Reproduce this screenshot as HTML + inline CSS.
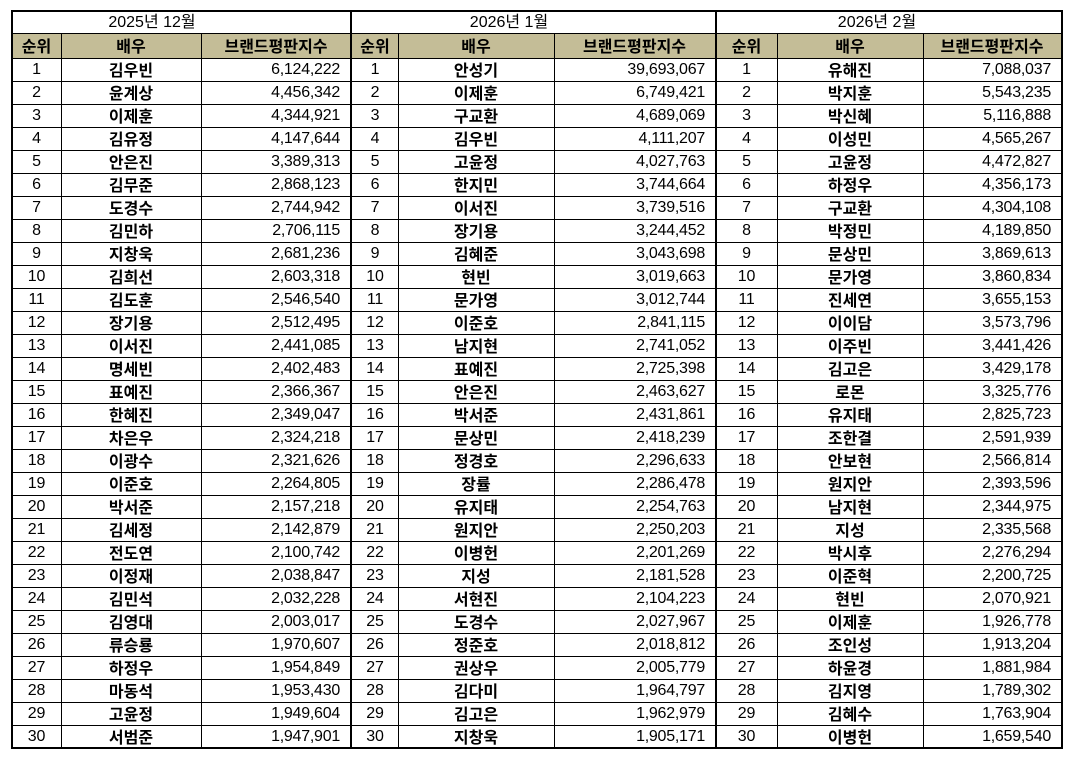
<!DOCTYPE html>
<html><head><meta charset="utf-8">
<style>
*{margin:0;padding:0;box-sizing:border-box}
html,body{width:1075px;height:759px;background:#fff;overflow:hidden}
body{position:relative;font-family:"Liberation Sans","Noto Sans CJK KR",sans-serif;color:#000;font-size:16px}
.ln{position:absolute;background:#000}
.hdrbg{position:absolute;left:13px;top:34px;width:1048px;height:24px;background:#c4bd97}
.grid{position:absolute;left:13px;top:59px;width:1048px;height:689px;background:repeating-linear-gradient(to bottom,transparent 0,transparent 22px,#000 22px,#000 23px)}
.sec{position:absolute;top:0}
.row{position:absolute;left:0;height:23px;display:flex}
.row div{height:23px;line-height:23px;white-space:nowrap}
.rk{text-align:center;letter-spacing:-0.2px}
.nm{text-align:center;font-weight:bold;font-family:"Noto Sans CJK KR","Liberation Sans",sans-serif}
.nu{text-align:right;letter-spacing:-0.25px}
.hd div{font-weight:bold;text-align:center;font-family:"Noto Sans CJK KR","Liberation Sans",sans-serif}
.title{position:absolute;top:12px;height:21px;line-height:21px;width:240px;text-align:center;font-family:"Liberation Sans","Noto Sans CJK KR",sans-serif}
.s1 .a{width:49px}.s1 .b{width:140px}.s1 .c{width:150px;padding-right:11px}
.s2 .a{width:46px}.s2 .b{width:156px}.s2 .c{width:161px;padding-right:10px}
.s3 .a{width:61px}.s3 .b{width:146px}.s3 .c{width:138px;padding-right:10px}
</style></head><body>
<div class="hdrbg"></div>
<div class="grid"></div>

<!-- outer border -->
<div class="ln" style="left:11px;top:10px;width:1052px;height:2px"></div>
<div class="ln" style="left:11px;top:747px;width:1052px;height:2px"></div>
<div class="ln" style="left:11px;top:10px;width:2px;height:739px"></div>
<div class="ln" style="left:1061px;top:10px;width:2px;height:739px"></div>
<!-- section dividers -->
<div class="ln" style="left:350px;top:10px;width:2px;height:739px"></div>
<div class="ln" style="left:715px;top:10px;width:2px;height:739px"></div>
<!-- horizontal lines -->
<div class="ln" style="left:11px;top:33px;width:1052px;height:1px"></div>
<div class="ln" style="left:11px;top:58px;width:1052px;height:1px"></div>
<!-- inner column lines -->
<div class="ln" style="left:61px;top:33px;width:1px;height:715px"></div>
<div class="ln" style="left:201px;top:33px;width:1px;height:715px"></div>
<div class="ln" style="left:398px;top:33px;width:1px;height:715px"></div>
<div class="ln" style="left:554px;top:33px;width:1px;height:715px"></div>
<div class="ln" style="left:777px;top:33px;width:1px;height:715px"></div>
<div class="ln" style="left:923px;top:33px;width:1px;height:715px"></div>

<div class="title" style="left:32px">2025년 12월</div>
<div class="title" style="left:389px">2026년 1월</div>
<div class="title" style="left:757px">2026년 2월</div>

<!-- Section 1 -->
<div class="sec s1" style="left:12px">
<div class="row hd" style="top:34px;height:24px"><div class="a">순위</div><div class="b">배우</div><div class="c" style="padding-right:0">브랜드평판지수</div></div>
<div class="row" style="top:58px"><div class="a rk">1</div><div class="b nm">김우빈</div><div class="c nu">6,124,222</div></div>
<div class="row" style="top:81px"><div class="a rk">2</div><div class="b nm">윤계상</div><div class="c nu">4,456,342</div></div>
<div class="row" style="top:104px"><div class="a rk">3</div><div class="b nm">이제훈</div><div class="c nu">4,344,921</div></div>
<div class="row" style="top:127px"><div class="a rk">4</div><div class="b nm">김유정</div><div class="c nu">4,147,644</div></div>
<div class="row" style="top:150px"><div class="a rk">5</div><div class="b nm">안은진</div><div class="c nu">3,389,313</div></div>
<div class="row" style="top:173px"><div class="a rk">6</div><div class="b nm">김무준</div><div class="c nu">2,868,123</div></div>
<div class="row" style="top:196px"><div class="a rk">7</div><div class="b nm">도경수</div><div class="c nu">2,744,942</div></div>
<div class="row" style="top:219px"><div class="a rk">8</div><div class="b nm">김민하</div><div class="c nu">2,706,115</div></div>
<div class="row" style="top:242px"><div class="a rk">9</div><div class="b nm">지창욱</div><div class="c nu">2,681,236</div></div>
<div class="row" style="top:265px"><div class="a rk">10</div><div class="b nm">김희선</div><div class="c nu">2,603,318</div></div>
<div class="row" style="top:288px"><div class="a rk">11</div><div class="b nm">김도훈</div><div class="c nu">2,546,540</div></div>
<div class="row" style="top:311px"><div class="a rk">12</div><div class="b nm">장기용</div><div class="c nu">2,512,495</div></div>
<div class="row" style="top:334px"><div class="a rk">13</div><div class="b nm">이서진</div><div class="c nu">2,441,085</div></div>
<div class="row" style="top:357px"><div class="a rk">14</div><div class="b nm">명세빈</div><div class="c nu">2,402,483</div></div>
<div class="row" style="top:380px"><div class="a rk">15</div><div class="b nm">표예진</div><div class="c nu">2,366,367</div></div>
<div class="row" style="top:403px"><div class="a rk">16</div><div class="b nm">한혜진</div><div class="c nu">2,349,047</div></div>
<div class="row" style="top:426px"><div class="a rk">17</div><div class="b nm">차은우</div><div class="c nu">2,324,218</div></div>
<div class="row" style="top:449px"><div class="a rk">18</div><div class="b nm">이광수</div><div class="c nu">2,321,626</div></div>
<div class="row" style="top:472px"><div class="a rk">19</div><div class="b nm">이준호</div><div class="c nu">2,264,805</div></div>
<div class="row" style="top:495px"><div class="a rk">20</div><div class="b nm">박서준</div><div class="c nu">2,157,218</div></div>
<div class="row" style="top:518px"><div class="a rk">21</div><div class="b nm">김세정</div><div class="c nu">2,142,879</div></div>
<div class="row" style="top:541px"><div class="a rk">22</div><div class="b nm">전도연</div><div class="c nu">2,100,742</div></div>
<div class="row" style="top:564px"><div class="a rk">23</div><div class="b nm">이정재</div><div class="c nu">2,038,847</div></div>
<div class="row" style="top:587px"><div class="a rk">24</div><div class="b nm">김민석</div><div class="c nu">2,032,228</div></div>
<div class="row" style="top:610px"><div class="a rk">25</div><div class="b nm">김영대</div><div class="c nu">2,003,017</div></div>
<div class="row" style="top:633px"><div class="a rk">26</div><div class="b nm">류승룡</div><div class="c nu">1,970,607</div></div>
<div class="row" style="top:656px"><div class="a rk">27</div><div class="b nm">하정우</div><div class="c nu">1,954,849</div></div>
<div class="row" style="top:679px"><div class="a rk">28</div><div class="b nm">마동석</div><div class="c nu">1,953,430</div></div>
<div class="row" style="top:702px"><div class="a rk">29</div><div class="b nm">고윤정</div><div class="c nu">1,949,604</div></div>
<div class="row" style="top:725px"><div class="a rk">30</div><div class="b nm">서범준</div><div class="c nu">1,947,901</div></div>
</div>

<!-- Section 2 -->
<div class="sec s2" style="left:352px">
<div class="row hd" style="top:34px;height:24px"><div class="a">순위</div><div class="b">배우</div><div class="c" style="padding-right:0">브랜드평판지수</div></div>
<div class="row" style="top:58px"><div class="a rk">1</div><div class="b nm">안성기</div><div class="c nu">39,693,067</div></div>
<div class="row" style="top:81px"><div class="a rk">2</div><div class="b nm">이제훈</div><div class="c nu">6,749,421</div></div>
<div class="row" style="top:104px"><div class="a rk">3</div><div class="b nm">구교환</div><div class="c nu">4,689,069</div></div>
<div class="row" style="top:127px"><div class="a rk">4</div><div class="b nm">김우빈</div><div class="c nu">4,111,207</div></div>
<div class="row" style="top:150px"><div class="a rk">5</div><div class="b nm">고윤정</div><div class="c nu">4,027,763</div></div>
<div class="row" style="top:173px"><div class="a rk">6</div><div class="b nm">한지민</div><div class="c nu">3,744,664</div></div>
<div class="row" style="top:196px"><div class="a rk">7</div><div class="b nm">이서진</div><div class="c nu">3,739,516</div></div>
<div class="row" style="top:219px"><div class="a rk">8</div><div class="b nm">장기용</div><div class="c nu">3,244,452</div></div>
<div class="row" style="top:242px"><div class="a rk">9</div><div class="b nm">김혜준</div><div class="c nu">3,043,698</div></div>
<div class="row" style="top:265px"><div class="a rk">10</div><div class="b nm">현빈</div><div class="c nu">3,019,663</div></div>
<div class="row" style="top:288px"><div class="a rk">11</div><div class="b nm">문가영</div><div class="c nu">3,012,744</div></div>
<div class="row" style="top:311px"><div class="a rk">12</div><div class="b nm">이준호</div><div class="c nu">2,841,115</div></div>
<div class="row" style="top:334px"><div class="a rk">13</div><div class="b nm">남지현</div><div class="c nu">2,741,052</div></div>
<div class="row" style="top:357px"><div class="a rk">14</div><div class="b nm">표예진</div><div class="c nu">2,725,398</div></div>
<div class="row" style="top:380px"><div class="a rk">15</div><div class="b nm">안은진</div><div class="c nu">2,463,627</div></div>
<div class="row" style="top:403px"><div class="a rk">16</div><div class="b nm">박서준</div><div class="c nu">2,431,861</div></div>
<div class="row" style="top:426px"><div class="a rk">17</div><div class="b nm">문상민</div><div class="c nu">2,418,239</div></div>
<div class="row" style="top:449px"><div class="a rk">18</div><div class="b nm">정경호</div><div class="c nu">2,296,633</div></div>
<div class="row" style="top:472px"><div class="a rk">19</div><div class="b nm">장률</div><div class="c nu">2,286,478</div></div>
<div class="row" style="top:495px"><div class="a rk">20</div><div class="b nm">유지태</div><div class="c nu">2,254,763</div></div>
<div class="row" style="top:518px"><div class="a rk">21</div><div class="b nm">원지안</div><div class="c nu">2,250,203</div></div>
<div class="row" style="top:541px"><div class="a rk">22</div><div class="b nm">이병헌</div><div class="c nu">2,201,269</div></div>
<div class="row" style="top:564px"><div class="a rk">23</div><div class="b nm">지성</div><div class="c nu">2,181,528</div></div>
<div class="row" style="top:587px"><div class="a rk">24</div><div class="b nm">서현진</div><div class="c nu">2,104,223</div></div>
<div class="row" style="top:610px"><div class="a rk">25</div><div class="b nm">도경수</div><div class="c nu">2,027,967</div></div>
<div class="row" style="top:633px"><div class="a rk">26</div><div class="b nm">정준호</div><div class="c nu">2,018,812</div></div>
<div class="row" style="top:656px"><div class="a rk">27</div><div class="b nm">권상우</div><div class="c nu">2,005,779</div></div>
<div class="row" style="top:679px"><div class="a rk">28</div><div class="b nm">김다미</div><div class="c nu">1,964,797</div></div>
<div class="row" style="top:702px"><div class="a rk">29</div><div class="b nm">김고은</div><div class="c nu">1,962,979</div></div>
<div class="row" style="top:725px"><div class="a rk">30</div><div class="b nm">지창욱</div><div class="c nu">1,905,171</div></div>
</div>

<!-- Section 3 -->
<div class="sec s3" style="left:716px">
<div class="row hd" style="top:34px;height:24px"><div class="a">순위</div><div class="b">배우</div><div class="c" style="padding-right:0">브랜드평판지수</div></div>
<div class="row" style="top:58px"><div class="a rk">1</div><div class="b nm">유해진</div><div class="c nu">7,088,037</div></div>
<div class="row" style="top:81px"><div class="a rk">2</div><div class="b nm">박지훈</div><div class="c nu">5,543,235</div></div>
<div class="row" style="top:104px"><div class="a rk">3</div><div class="b nm">박신혜</div><div class="c nu">5,116,888</div></div>
<div class="row" style="top:127px"><div class="a rk">4</div><div class="b nm">이성민</div><div class="c nu">4,565,267</div></div>
<div class="row" style="top:150px"><div class="a rk">5</div><div class="b nm">고윤정</div><div class="c nu">4,472,827</div></div>
<div class="row" style="top:173px"><div class="a rk">6</div><div class="b nm">하정우</div><div class="c nu">4,356,173</div></div>
<div class="row" style="top:196px"><div class="a rk">7</div><div class="b nm">구교환</div><div class="c nu">4,304,108</div></div>
<div class="row" style="top:219px"><div class="a rk">8</div><div class="b nm">박정민</div><div class="c nu">4,189,850</div></div>
<div class="row" style="top:242px"><div class="a rk">9</div><div class="b nm">문상민</div><div class="c nu">3,869,613</div></div>
<div class="row" style="top:265px"><div class="a rk">10</div><div class="b nm">문가영</div><div class="c nu">3,860,834</div></div>
<div class="row" style="top:288px"><div class="a rk">11</div><div class="b nm">진세연</div><div class="c nu">3,655,153</div></div>
<div class="row" style="top:311px"><div class="a rk">12</div><div class="b nm">이이담</div><div class="c nu">3,573,796</div></div>
<div class="row" style="top:334px"><div class="a rk">13</div><div class="b nm">이주빈</div><div class="c nu">3,441,426</div></div>
<div class="row" style="top:357px"><div class="a rk">14</div><div class="b nm">김고은</div><div class="c nu">3,429,178</div></div>
<div class="row" style="top:380px"><div class="a rk">15</div><div class="b nm">로몬</div><div class="c nu">3,325,776</div></div>
<div class="row" style="top:403px"><div class="a rk">16</div><div class="b nm">유지태</div><div class="c nu">2,825,723</div></div>
<div class="row" style="top:426px"><div class="a rk">17</div><div class="b nm">조한결</div><div class="c nu">2,591,939</div></div>
<div class="row" style="top:449px"><div class="a rk">18</div><div class="b nm">안보현</div><div class="c nu">2,566,814</div></div>
<div class="row" style="top:472px"><div class="a rk">19</div><div class="b nm">원지안</div><div class="c nu">2,393,596</div></div>
<div class="row" style="top:495px"><div class="a rk">20</div><div class="b nm">남지현</div><div class="c nu">2,344,975</div></div>
<div class="row" style="top:518px"><div class="a rk">21</div><div class="b nm">지성</div><div class="c nu">2,335,568</div></div>
<div class="row" style="top:541px"><div class="a rk">22</div><div class="b nm">박시후</div><div class="c nu">2,276,294</div></div>
<div class="row" style="top:564px"><div class="a rk">23</div><div class="b nm">이준혁</div><div class="c nu">2,200,725</div></div>
<div class="row" style="top:587px"><div class="a rk">24</div><div class="b nm">현빈</div><div class="c nu">2,070,921</div></div>
<div class="row" style="top:610px"><div class="a rk">25</div><div class="b nm">이제훈</div><div class="c nu">1,926,778</div></div>
<div class="row" style="top:633px"><div class="a rk">26</div><div class="b nm">조인성</div><div class="c nu">1,913,204</div></div>
<div class="row" style="top:656px"><div class="a rk">27</div><div class="b nm">하윤경</div><div class="c nu">1,881,984</div></div>
<div class="row" style="top:679px"><div class="a rk">28</div><div class="b nm">김지영</div><div class="c nu">1,789,302</div></div>
<div class="row" style="top:702px"><div class="a rk">29</div><div class="b nm">김혜수</div><div class="c nu">1,763,904</div></div>
<div class="row" style="top:725px"><div class="a rk">30</div><div class="b nm">이병헌</div><div class="c nu">1,659,540</div></div>
</div>
</body></html>
